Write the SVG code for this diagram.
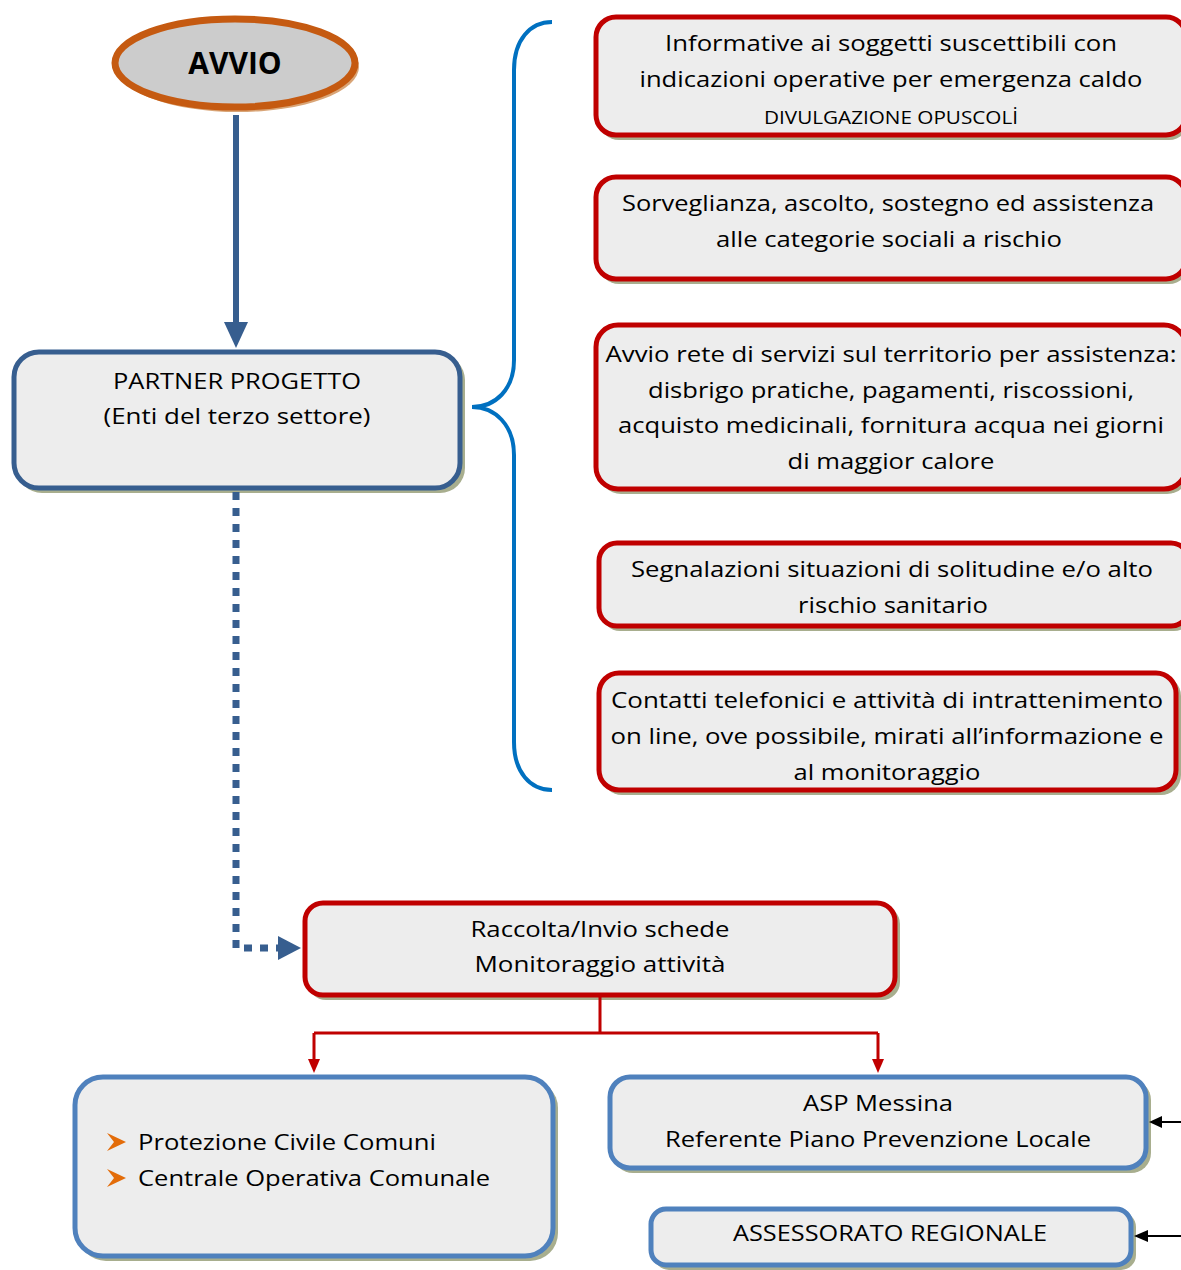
<svg xmlns="http://www.w3.org/2000/svg" width="1181" height="1270" viewBox="0 0 1181 1270">
<style>
text{font-family:"Open Sans","Noto Sans","DejaVu Sans",sans-serif;font-size:22px;fill:#000;text-anchor:middle}
.sh{fill:#A8AE8E}
.red{fill:#EDEDED;stroke:#C00000;stroke-width:5}
.navy{fill:#EDEDED;stroke:#375E8F;stroke-width:5}
.blue{fill:#EDEDED;stroke:#4F81BD;stroke-width:5}
.sm{font-size:18px}
</style>
<rect width="1181" height="1270" fill="#fff"/>
<g id="avvio">
<ellipse cx="238" cy="67" rx="121" ry="45" fill="#D9A577"/>
<ellipse cx="235" cy="63" rx="120" ry="44" fill="#CCCCCC" stroke="#C55A11" stroke-width="7"/>
<text x="235" y="74" style="font-size:30px;font-weight:bold">AVVIO</text>
</g>
<g id="partner">
<rect class="sh" x="17" y="355" width="448" height="138" rx="25"/>
<rect class="navy" x="14" y="352" width="446" height="136" rx="25"/>
<text x="237" y="389" textLength="248" lengthAdjust="spacingAndGlyphs">PARTNER PROGETTO</text>
<text x="237" y="424" textLength="267" lengthAdjust="spacingAndGlyphs">(Enti del terzo settore)</text>
</g>
<g id="box1">
<rect class="sh" x="599" y="20" width="590" height="120" rx="20"/>
<rect class="red" x="596" y="17" width="590" height="118" rx="20"/>
<text x="891" y="51" textLength="452" lengthAdjust="spacingAndGlyphs">Informative ai soggetti suscettibili con</text>
<text x="891" y="87" textLength="503" lengthAdjust="spacingAndGlyphs">indicazioni operative per emergenza caldo</text>
<text x="891" y="124" class="sm" textLength="254" lengthAdjust="spacingAndGlyphs">DIVULGAZIONE OPUSCOLİ</text>
</g>
<g id="box2">
<rect class="sh" x="599" y="180" width="590" height="104" rx="20"/>
<rect class="red" x="596" y="177" width="590" height="102" rx="20"/>
<text x="888" y="211" textLength="532" lengthAdjust="spacingAndGlyphs">Sorveglianza, ascolto, sostegno ed assistenza</text>
<text x="889" y="247" textLength="346" lengthAdjust="spacingAndGlyphs">alle categorie sociali a rischio</text>
</g>
<g id="box3">
<rect class="sh" x="599" y="328" width="590" height="166" rx="22"/>
<rect class="red" x="596" y="325" width="590" height="164" rx="22"/>
<text x="891" y="362" textLength="571" lengthAdjust="spacingAndGlyphs">Avvio rete di servizi sul territorio per assistenza:</text>
<text x="891" y="398" textLength="486" lengthAdjust="spacingAndGlyphs">disbrigo pratiche, pagamenti, riscossioni,</text>
<text x="891" y="433" textLength="546" lengthAdjust="spacingAndGlyphs">acquisto medicinali, fornitura acqua nei giorni</text>
<text x="891" y="469" textLength="207" lengthAdjust="spacingAndGlyphs">di maggior calore</text>
</g>
<g id="box4">
<rect class="sh" x="602" y="546" width="590" height="85" rx="18"/>
<rect class="red" x="599" y="543" width="590" height="83" rx="18"/>
<text x="892" y="577" textLength="522" lengthAdjust="spacingAndGlyphs">Segnalazioni situazioni di solitudine e/o alto</text>
<text x="893" y="613" textLength="190" lengthAdjust="spacingAndGlyphs">rischio sanitario</text>
</g>
<g id="box5">
<rect class="sh" x="602" y="676" width="579" height="119" rx="20"/>
<rect class="red" x="599" y="673" width="577" height="117" rx="20"/>
<text x="887" y="708" textLength="552" lengthAdjust="spacingAndGlyphs">Contatti telefonici e attività di intrattenimento</text>
<text x="887" y="744" textLength="553" lengthAdjust="spacingAndGlyphs">on line, ove possibile, mirati all’informazione e</text>
<text x="887" y="780" textLength="187" lengthAdjust="spacingAndGlyphs">al monitoraggio</text>
</g>
<g id="raccolta">
<rect class="sh" x="308" y="906" width="592" height="94" rx="18"/>
<rect class="red" x="305" y="903" width="590" height="92" rx="18"/>
<text x="600" y="937" textLength="259" lengthAdjust="spacingAndGlyphs">Raccolta/Invio schede</text>
<text x="600" y="972" textLength="251" lengthAdjust="spacingAndGlyphs">Monitoraggio attività</text>
</g>
<g id="protezione">
<rect class="sh" x="78" y="1080" width="480" height="181" rx="28"/>
<rect class="blue" x="75" y="1077" width="478" height="179" rx="28"/>
<path d="M107,1133 L126,1142 L107,1151 L114,1142 Z" fill="#E36C09"/>
<path d="M107,1169 L126,1178 L107,1187 L114,1178 Z" fill="#E36C09"/>
<text x="138" y="1150" style="text-anchor:start" textLength="298" lengthAdjust="spacingAndGlyphs">Protezione Civile Comuni</text>
<text x="138" y="1186" style="text-anchor:start" textLength="352" lengthAdjust="spacingAndGlyphs">Centrale Operativa Comunale</text>
</g>
<g id="asp">
<rect class="sh" x="613" y="1080" width="538" height="93" rx="20"/>
<rect class="blue" x="610" y="1077" width="536" height="91" rx="20"/>
<text x="878" y="1111" textLength="150" lengthAdjust="spacingAndGlyphs">ASP Messina</text>
<text x="878" y="1147" textLength="426" lengthAdjust="spacingAndGlyphs">Referente Piano Prevenzione Locale</text>
</g>
<g id="assessorato">
<rect class="sh" x="654" y="1212" width="482" height="58" rx="15"/>
<rect class="blue" x="651" y="1209" width="480" height="56" rx="15"/>
<text x="890" y="1241" textLength="314" lengthAdjust="spacingAndGlyphs">ASSESSORATO REGIONALE</text>
</g>
<g id="connectors">
<line x1="236" y1="115" x2="236" y2="324" stroke="#375E8F" stroke-width="6"/>
<polygon points="224,322 248,322 236,348" fill="#375E8F"/>
<path d="M236,492 V948 H278" fill="none" stroke="#375E8F" stroke-width="7" stroke-dasharray="8 8"/>
<polygon points="278,936 301,948 278,960" fill="#375E8F"/>
<path d="M552,22 C530,22 514,40 514,70 L514,360 C514,390 495,407 472,407 C495,407 514,425 514,455 L514,742 C514,772 530,790 552,790" fill="none" stroke="#0070C0" stroke-width="4"/>
<path d="M600,997 V1033 M314,1033 H878 M314,1033 V1060 M878,1033 V1060" fill="none" stroke="#C00000" stroke-width="3"/>
<polygon points="308,1059 320,1059 314,1073" fill="#C00000"/>
<polygon points="872,1059 884,1059 878,1073" fill="#C00000"/>
<line x1="1181" y1="1122" x2="1160" y2="1122" stroke="#000" stroke-width="2"/>
<polygon points="1162,1116 1162,1128 1149,1122" fill="#000"/>
<line x1="1181" y1="1236" x2="1146" y2="1236" stroke="#000" stroke-width="2"/>
<polygon points="1148,1230 1148,1242 1134,1236" fill="#000"/>
</g>
</svg>
